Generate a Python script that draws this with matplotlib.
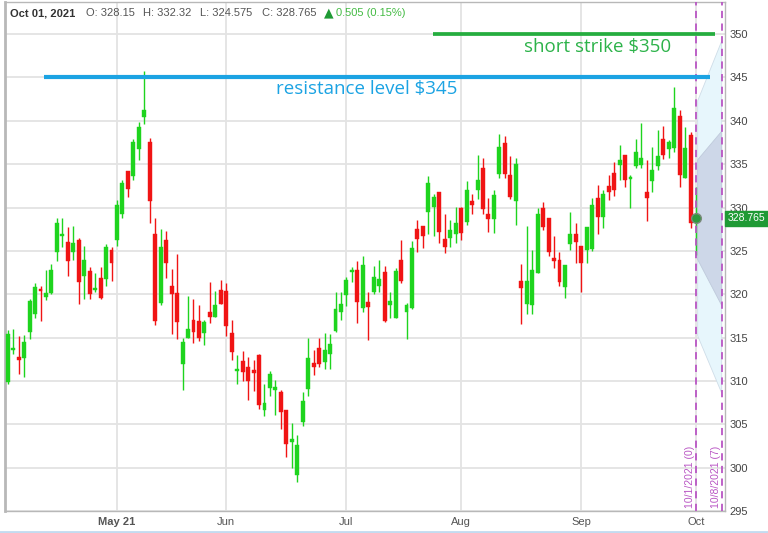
import matplotlib
matplotlib.use('Agg')
import matplotlib.pyplot as plt
import pandas as pd
from matplotlib.patches import Polygon
from matplotlib.lines import Line2D

# daily OHLC, Apr 5 2021 .. Oct 1 2021
opens = [309.9, 313.6, 312.8, 312.7, 315.7, 317.7, 320.6, 319.7, 320.1, 324.9,
         326.7, 326.0, 324.9, 326.3, 322.1, 322.7, 320.5, 321.9, 321.7, 325.1,
         326.2, 329.2, 334.2, 333.6, 336.7, 340.4, 337.5, 326.9, 319.0, 326.3,
         321.0, 320.1, 312.0, 314.9, 317.0, 316.9, 315.5, 317.9, 317.4, 320.5,
         320.4, 315.5, 311.1, 312.3, 311.6, 311.3, 313.0, 306.6, 309.2, 308.9,
         308.7, 306.7, 303.0, 299.2, 305.3, 309.1, 312.1, 313.8, 312.2, 313.1,
         315.8, 317.9, 319.9, 322.6, 322.8, 318.4, 319.1, 320.3, 321.0, 322.6,
         318.8, 317.3, 324.0, 317.9, 318.4, 327.5, 327.9, 329.5, 330.1, 331.8,
         326.4, 326.5, 326.9, 330.0, 328.3, 330.7, 332.0, 334.6, 329.3, 328.7,
         333.9, 337.4, 333.8, 330.7, 321.5, 318.9, 318.7, 322.5, 330.0, 328.8,
         324.2, 323.9, 320.8, 325.8, 327.0, 325.6, 325.1, 325.2, 331.1, 328.9,
         332.5, 334.0, 334.9, 336.1, 333.3, 334.8, 334.9, 331.8, 333.0, 334.8,
         337.9, 336.8, 336.9, 340.5, 333.4, 338.4, 328.15]
highs = [315.9, 316.0, 315.2, 315.3, 319.5, 321.3, 321.0, 322.8, 323.5, 328.8,
         328.8, 327.7, 327.9, 326.5, 325.6, 323.1, 322.5, 323.1, 325.8, 325.4,
         330.9, 333.2, 334.2, 337.9, 339.9, 345.8, 338.0, 328.8, 327.5, 327.3,
         322.9, 324.6, 314.9, 319.8, 319.5, 318.8, 317.0, 321.4, 320.4, 321.6,
         321.3, 317.0, 313.0, 313.5, 312.8, 312.4, 313.1, 309.7, 311.2, 310.1,
         308.9, 306.7, 305.2, 303.8, 308.7, 314.9, 313.6, 314.9, 315.5, 315.4,
         320.3, 320.3, 322.0, 323.1, 323.8, 324.4, 320.2, 323.2, 324.0, 323.3,
         320.3, 323.0, 326.3, 319.0, 326.1, 328.6, 327.9, 333.6, 331.6, 331.8,
         329.3, 328.6, 330.1, 330.1, 333.1, 331.6, 336.0, 335.7, 331.1, 332.0,
         338.5, 338.2, 335.9, 335.7, 323.5, 327.9, 325.1, 329.9, 330.6, 328.8,
         326.7, 324.9, 323.4, 329.5, 328.2, 325.6, 327.8, 331.1, 332.6, 332.0,
         333.8, 335.3, 337.2, 336.1, 333.8, 337.9, 339.7, 335.5, 337.0, 338.9,
         339.4, 337.8, 343.9, 341.3, 339.3, 338.7, 332.32]
lows = [309.7, 313.1, 310.8, 310.5, 314.8, 317.3, 316.9, 319.3, 320.0, 323.8,
        325.4, 322.1, 323.9, 318.9, 319.5, 319.4, 320.2, 319.4, 321.0, 321.5,
        325.6, 328.8, 331.2, 333.2, 335.5, 339.6, 328.2, 316.4, 318.7, 321.9,
        315.4, 314.8, 309.0, 314.9, 314.4, 314.6, 314.2, 316.7, 317.4, 318.9,
        315.2, 312.4, 309.7, 310.0, 307.8, 308.8, 306.8, 306.0, 308.3, 306.1,
        304.5, 301.2, 300.0, 298.3, 304.8, 308.3, 310.7, 311.6, 311.4, 311.4,
        315.6, 317.0, 318.6, 321.4, 316.7, 318.0, 314.7, 320.0, 320.3, 316.8,
        317.2, 317.3, 321.3, 314.8, 318.3, 324.9, 325.3, 326.9, 326.7, 325.9,
        324.7, 325.4, 325.9, 326.3, 328.0, 329.3, 331.0, 329.2, 327.2, 327.1,
        333.4, 333.4, 331.0, 328.0, 316.6, 317.7, 317.7, 322.5, 327.4, 324.4,
        323.0, 320.9, 319.6, 325.1, 323.6, 320.2, 323.6, 325.0, 326.9, 327.6,
        330.9, 331.3, 333.2, 332.4, 330.0, 334.6, 334.6, 328.4, 331.8, 334.3,
        335.6, 335.7, 336.4, 332.4, 333.4, 327.6, 324.575]
closes = [315.4, 313.8, 312.4, 314.5, 319.2, 320.8, 320.4, 320.1, 322.8, 328.2,
          326.9, 323.8, 325.9, 321.4, 323.9, 320.0, 320.6, 319.6, 325.4, 323.6,
          330.3, 332.8, 332.1, 337.6, 339.3, 341.2, 330.7, 316.9, 325.4, 323.6,
          320.0, 316.8, 314.5, 316.0, 315.7, 314.9, 316.8, 317.4, 318.8, 318.9,
          316.3, 313.3, 311.3, 311.0, 310.0, 310.9, 307.2, 307.4, 310.8, 309.3,
          306.4, 302.7, 303.1, 302.6, 307.7, 312.7, 311.6, 311.9, 313.6, 314.3,
          318.3, 318.9, 321.6, 322.8, 319.1, 323.4, 318.5, 322.0, 321.8, 316.9,
          319.2, 322.7, 321.5, 318.8, 325.3, 326.4, 326.7, 332.8, 331.2, 327.2,
          325.5, 327.4, 328.2, 327.1, 332.0, 330.3, 333.2, 329.8, 328.7, 331.5,
          337.0, 333.9, 331.2, 335.0, 320.7, 321.5, 322.8, 329.3, 327.8, 324.9,
          323.8, 321.4, 323.4, 327.0, 326.0, 323.6, 327.8, 330.3, 328.9, 331.6,
          331.8, 332.0, 335.5, 333.2, 333.4, 336.4, 335.7, 331.1, 334.3, 335.9,
          336.1, 337.5, 341.5, 333.8, 336.9, 328.2, 328.765]

dates = pd.bdate_range('2021-04-05', '2021-10-01', freq='C',
                       holidays=['2021-05-31', '2021-07-05', '2021-09-06'])
month_labels = ['May 21', 'Jun', 'Jul', 'Aug', 'Sep', 'Oct']
price_ticks = list(range(295, 351, 5))

resistance = 345
short_strike = 350
change = 0.505
change_pct = 0.15

# expected move cone to expiry (upper/lower edges at today and expiry)
cone_outer_hi = [342.3, 349.2]
cone_outer_lo = [315.2, 308.6]
cone_inner_hi = [335.5, 338.8]
cone_inner_lo = [324.0, 318.7]

GREEN = '#1ed41e'
RED = '#f01414'
PURPLE = '#b955c4'

plt.rcParams['font.family'] = ['Liberation Sans', 'DejaVu Sans']

fig = plt.figure(figsize=(7.68, 5.33), dpi=100)
ax = fig.add_axes([5 / 768, 1 - 511 / 533, 720 / 768, 509 / 533])

n = len(dates)
xs = list(range(n))
last = n - 1
expiry_x = last + 4.7

# cone
cx = [last + 0.3, expiry_x]
ax.add_patch(Polygon([(cx[0], cone_outer_hi[0]), (cx[1], cone_outer_hi[1]),
                      (cx[1], cone_outer_lo[1]), (cx[0], cone_outer_lo[0])],
                     closed=True, facecolor='#e7f6fc', edgecolor='#cfdde8', lw=0.6, zorder=1))
ax.add_patch(Polygon([(cx[0], cone_inner_hi[0]), (cx[1], cone_inner_hi[1]),
                      (cx[1], cone_inner_lo[1]), (cx[0], cone_inner_lo[0])],
                     closed=True, facecolor='#cdd7e8', edgecolor='#bfcadb', lw=0.6, zorder=1))

# candles
for i in xs[:-1]:
    o, h, l, c = opens[i], highs[i], lows[i], closes[i]
    col = GREEN if c >= o else RED
    ax.vlines(i, l, h, color=col, lw=1, zorder=3)
    body = max(abs(c - o), 0.25)
    ax.bar(i, body, bottom=min(o, c), width=0.72, color=col, edgecolor=col, lw=0.3, zorder=4)

# today: wick + marker
ax.vlines(last, lows[last], highs[last], color=GREEN, lw=1, zorder=3)
ax.plot(last, closes[last], 'o', ms=7, mfc='#2e9a3e', mec='#7a8a7a', mew=1, zorder=6)

# date lines
for xv, lab in [(last, '10/1/2021 (0)'), (expiry_x, '10/8/2021 (7)')]:
    ax.axvline(xv, color=PURPLE, lw=1.3, ls=(0, (4, 3)), zorder=5)
    ax.text(xv - 0.2, 295.4, lab, rotation=90, ha='right', va='bottom',
            color=PURPLE, fontsize=7.5, zorder=6)

# levels
ax.plot([6.6, 128.6], [resistance, resistance], color='#1ba3e3', lw=3, solid_capstyle='butt', zorder=5)
ax.text(65.8, 343.7, 'resistance level $345', color='#1ba3e3', fontsize=13.5,
        family='Open Sans', ha='center', va='center', zorder=6)
ax.plot([77.9, 129.5], [short_strike, short_strike], color='#25ad3f', lw=2.7, solid_capstyle='butt', zorder=5)
ax.text(107.9, 348.5, 'short strike $350', color='#2db34a', fontsize=13.5,
        family='Open Sans', ha='center', va='center', zorder=6)

# axes
month_pos = []
for k in range(1, n):
    if dates[k].month != dates[k - 1].month:
        month_pos.append(k)
ax.set_xticks(month_pos)
ax.set_xticklabels(month_labels)
ax.get_xticklabels()[0].set_fontweight('bold')
ax.get_xticklabels()[0].set_color('#333333')
ax.set_yticks(price_ticks)
ax.yaxis.tick_right()
ax.tick_params(axis='y', length=0, pad=3, labelsize=8, labelcolor='#444444')
ax.tick_params(axis='x', length=0, pad=4, labelsize=8, labelcolor='#555555')
ax.set_xlim(-0.5, last + 5.3)
ax.set_ylim(295, 353.7)
ax.grid(True, color='#e3e3e3', lw=1.3, zorder=0)
ax.set_axisbelow(True)
for s in ax.spines.values():
    s.set_color('#b8b8b8')
    s.set_linewidth(1)
ax.spines['left'].set_linewidth(2)

# last price tag
ax.annotate('%.3f' % closes[last], xy=(1.004, closes[last]), xycoords=('axes fraction', 'data'),
            ha='left', va='center', fontsize=7.5, color='white', annotation_clip=False,
            bbox=dict(boxstyle='square,pad=0.25', fc='#1f9a35', ec='#1f9a35'))

# header
hy = 1 - 13 / 533
fig.text(10 / 768, hy, dates[last].strftime('%b %d, %Y'), fontsize=8, fontweight='bold',
         color='#333333', va='center')
hdr = [(86, 'O: %.2f' % opens[last]), (143, 'H: %.2f' % highs[last]),
       (200, 'L: %.3f' % lows[last]), (262, 'C: %.3f' % closes[last])]
for px, t in hdr:
    fig.text(px / 768, hy, t, fontsize=8, color='#555555', va='center')
fig.text(324 / 768, hy, '\u25b2', fontsize=9, color='#1f9a35', va='center',
         family=['DejaVu Sans'])
fig.text(336 / 768, hy, '%.3f (%.2f%%)' % (change, change_pct), fontsize=8,
         color='#44bb44', va='center')

fig.add_artist(Line2D([0, 1], [0.002, 0.002], color='#c3dbf0', lw=2))

plt.savefig('out.png', dpi=100)
